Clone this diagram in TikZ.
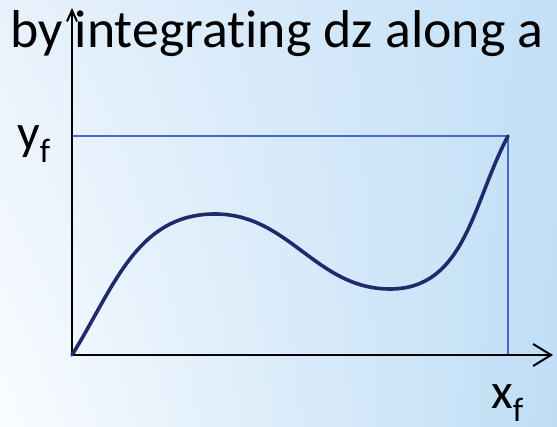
\documentclass[tikz,border=0pt]{standalone}
\usepackage{fontspec}
\setmainfont[Ligatures=NoCommon]{Carlito}
\usetikzlibrary{arrows.meta,shadings}
\definecolor{navy}{HTML}{1F2A6B}
\definecolor{rectblue}{HTML}{4A66CC}
\definecolor{bgul}{RGB}{232,242,252}
\definecolor{bgur}{RGB}{196,224,247}
\definecolor{bgll}{RGB}{250,252,255}
\definecolor{bglr}{RGB}{190,221,245}
\tikzset{
  axis/.style={line width=2pt, black},
  frame/.style={line width=1.6pt, rectblue},
  curve/.style={line width=3.6pt, navy, line cap=round},
  lbl/.style={inner sep=0pt, anchor=base west, font=\fontsize{50}{50}\selectfont}
}
\newcommand{\subf}{\raisebox{-13pt}{\fontsize{34}{34}\selectfont f}}
\begin{document}
\begin{tikzpicture}[x=1pt,y=1pt]
\useasboundingbox (0,0) rectangle (557,426);
\shade[upper left=bgul, upper right=bgur, lower left=bgll, lower right=bglr]
  (0,0) rectangle (557,426);
\node[anchor=base west, inner sep=0pt] (title) at (10,378)
  {\resizebox{533pt}{37pt}{by integrating dz along a}};
\coordinate (O) at (72,71);
\coordinate (ytop) at (72,418);
\coordinate (xend) at (553,71);
\coordinate (Y) at (72,290);
\coordinate (C) at (508,290);
\coordinate (X) at (508,71);
\coordinate (peak) at (215,212);
\coordinate (vall) at (390,137);
\draw[frame] (Y) -- (C) -- (X);
\draw[axis, -{Straight Barb[length=11pt,width=10pt]}] (O) -- (ytop);
\draw[axis, -{Straight Barb[length=18pt,width=22pt]}] (O) -- (xend);
\draw[curve] (O) to[out=58,in=180] (peak) to[out=0,in=180] (vall) to[out=0,in=-118] (C);
\node[lbl] (yf) at (17,276) {y\subf};
\node[lbl] (xf) at (491,18) {x\subf};
\end{tikzpicture}
\end{document}
